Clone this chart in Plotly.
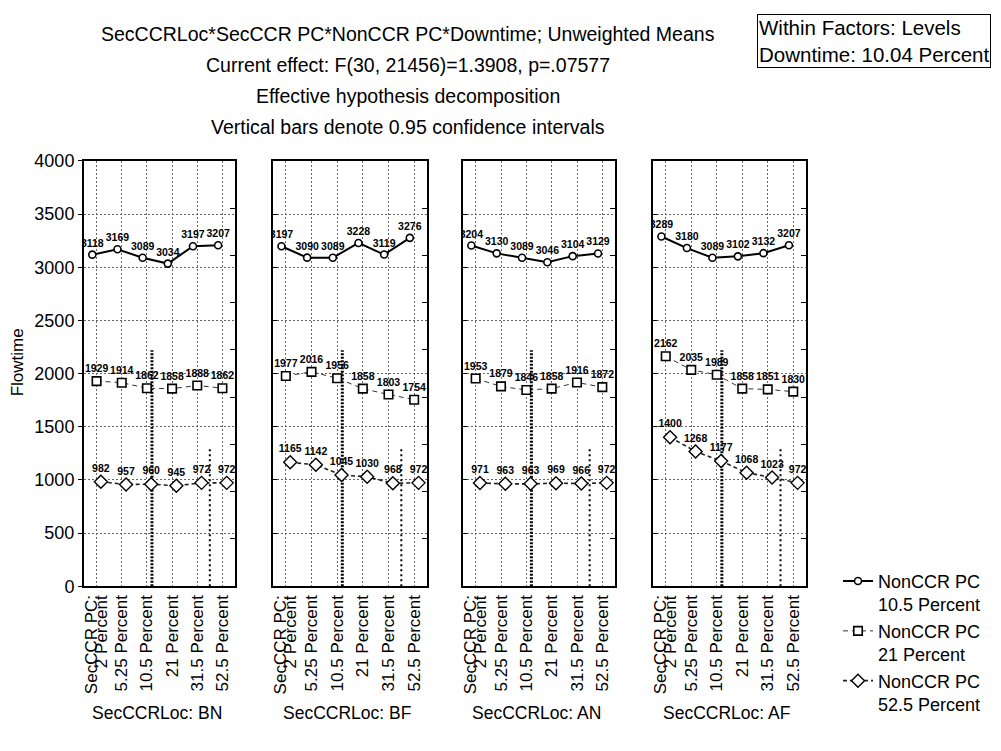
import plotly.graph_objects as go

# Factor levels
sec_pc_levels = ["2 Percent", "5.25 Percent", "10.5 Percent", "21 Percent", "31.5 Percent", "52.5 Percent"]
locations = ["BN", "BF", "AN", "AF"]

# Unweighted mean flowtime per SecCCR PC level, one list per location and NonCCR PC level
bn_nonccr_105 = [3118, 3169, 3089, 3034, 3197, 3207]
bn_nonccr_21 = [1929, 1914, 1862, 1858, 1888, 1862]
bn_nonccr_525 = [982, 957, 960, 945, 972, 972]

bf_nonccr_105 = [3197, 3090, 3089, 3228, 3119, 3276]
bf_nonccr_21 = [1977, 2016, 1956, 1858, 1803, 1754]
bf_nonccr_525 = [1165, 1142, 1045, 1030, 968, 972]

an_nonccr_105 = [3204, 3130, 3089, 3046, 3104, 3129]
an_nonccr_21 = [1953, 1879, 1846, 1858, 1916, 1872]
an_nonccr_525 = [971, 963, 963, 969, 966, 972]

af_nonccr_105 = [3289, 3180, 3089, 3102, 3132, 3207]
af_nonccr_21 = [2162, 2035, 1989, 1858, 1851, 1830]
af_nonccr_525 = [1400, 1268, 1177, 1068, 1023, 972]

# Confidence interval bars (position on the SecCCR PC axis, upper end)
ci_x = [2.2, 4.5]
ci_top = [2220, 1290]

series_names = ["NonCCR PC<br>10.5 Percent", "NonCCR PC<br>21 Percent", "NonCCR PC<br>52.5 Percent"]
panel_data = {
    "BN": [bn_nonccr_105, bn_nonccr_21, bn_nonccr_525],
    "BF": [bf_nonccr_105, bf_nonccr_21, bf_nonccr_525],
    "AN": [an_nonccr_105, an_nonccr_21, an_nonccr_525],
    "AF": [af_nonccr_105, af_nonccr_21, af_nonccr_525],
}

W, H = 1001, 751
def fx(p):
    return p / W
def fy(p):
    return 1 - p / H

panel_px = [(84, 235), (273, 427), (463, 615), (653, 806)]
plot_top, plot_bottom = 155, 592

SANS = "Liberation Sans, Arial, sans-serif"

styles = [
    dict(line=dict(color="black", width=2), marker=dict(symbol="circle", size=7, line=dict(width=1.6, color="black")), offset=-0.17),
    dict(line=dict(color="#333", width=1, dash="5px,4px"), marker=dict(symbol="square", size=8.5, line=dict(width=1.6, color="black")), offset=0.0),
    dict(line=dict(color="#222", width=1.6, dash="4px,3px"), marker=dict(symbol="diamond", size=10, line=dict(width=1.4, color="black")), offset=0.17),
]

fig = go.Figure()
layout = {}
annotations = []

for i, loc in enumerate(locations):
    n = i + 1
    xname = "x" if n == 1 else f"x{n}"
    yname = "y" if n == 1 else f"y{n}"
    y2name = f"y{n + 4}"
    x0, x1 = panel_px[i]

    # confidence interval bars
    for k, (cx, ct) in enumerate(zip(ci_x, ci_top)):
        fig.add_trace(go.Scatter(
            x=[cx, cx], y=[0, ct], mode="lines", xaxis=xname, yaxis=yname,
            line=dict(color="black", width=3 if k == 0 else 2, dash="2px,1.5px" if k == 0 else "2px,3px"),
            showlegend=False, hoverinfo="skip"))

    for s, values in enumerate(panel_data[loc]):
        st = styles[s]
        fig.add_trace(go.Scatter(
            x=[j + st["offset"] for j in range(len(values))], y=values,
            mode="lines+markers+text", text=[str(v) for v in values],
            textposition="top center",
            textfont=dict(family=SANS, size=10.5, color="black", weight="bold"),
            line=st["line"], marker=dict(color="white", **st["marker"]),
            name=series_names[s], legendgroup="nonccr", showlegend=(i == 0),
            xaxis=xname, yaxis=yname, hoverinfo="skip", cliponaxis=True))

    # secondary axis carrying the inner ticks of the right frame
    fig.add_trace(go.Scatter(x=[None], y=[None], xaxis=xname, yaxis=y2name,
                             showlegend=False, hoverinfo="skip"))

    layout["xaxis" if n == 1 else f"xaxis{n}"] = dict(
        domain=[fx(x0), fx(x1)], anchor=yname, range=[-0.5, 5.5],
        tickmode="array", tickvals=list(range(6)), ticktext=[""] + sec_pc_levels[1:],
        tickangle=-90, tickfont=dict(family=SANS, size=17, color="black"),
        showline=True, mirror=True, linecolor="black", linewidth=2,
        showgrid=True, gridcolor="#666", griddash="2px,2px", gridwidth=1,
        zeroline=False, ticks="", fixedrange=True)
    layout["yaxis" if n == 1 else f"yaxis{n}"] = dict(
        domain=[fy(plot_bottom), fy(plot_top)], anchor=xname, range=[0, 4000],
        dtick=500, showticklabels=(n == 1), tickfont=dict(family=SANS, size=18, color="black"),
        ticks="outside" if n == 1 else "inside", ticklen=4, tickcolor="black",
        showline=True, mirror=True, linecolor="black", linewidth=2,
        showgrid=True, gridcolor="#666", griddash="2px,2px", gridwidth=1,
        zeroline=False, fixedrange=True)
    layout[f"yaxis{n + 4}"] = dict(
        overlaying=yname, anchor=xname, side="right", range=[0, 9], dtick=1,
        showticklabels=False, ticks="inside", ticklen=5, tickcolor="black",
        showgrid=False, zeroline=False, showline=False, fixedrange=True)

    # two-line label of the first level
    annotations.append(dict(text="SecCCR PC:", x=0, xref=xname, xshift=-5, y=fy(599), yref="paper",
                            xanchor="center", yanchor="top", textangle=-90, showarrow=False,
                            font=dict(family=SANS, size=17, color="black")))
    annotations.append(dict(text="2 Percent", x=0, xref=xname, xshift=5, y=fy(599), yref="paper",
                            xanchor="center", yanchor="top", textangle=-90, showarrow=False,
                            font=dict(family=SANS, size=17, color="black")))
    annotations.append(dict(text=f"SecCCRLoc: {loc}", x=fx((x0 + x1) / 2 - 3), xref="paper",
                            y=fy(722), yref="paper", xanchor="center", yanchor="middle",
                            showarrow=False, font=dict(family=SANS, size=17.5, color="black")))

title_lines = [
    ("SecCCRLoc*SecCCR PC*NonCCR PC*Downtime; Unweighted Means", 25),
    ("Current effect: F(30, 21456)=1.3908, p=.07577", 57),
    ("Effective hypothesis decomposition", 88),
    ("Vertical bars denote 0.95 confidence intervals", 120),
]
for txt, cy in title_lines:
    annotations.append(dict(text=txt, x=fx(408), y=fy(cy), xref="paper", yref="paper",
                            xanchor="center", yanchor="middle", showarrow=False,
                            font=dict(family=SANS, size=19.5, color="black")))

annotations.append(dict(text="Within Factors: Levels<br>Downtime: 10.04 Percent",
                        x=fx(757), y=fy(4), xref="paper", yref="paper", xanchor="left", yanchor="top",
                        align="left", showarrow=False, bordercolor="black", borderwidth=1, borderpad=1,
                        bgcolor="white", font=dict(family=SANS, size=20.5, color="black")))

annotations.append(dict(text="Flowtime", x=fx(17), y=fy(362), xref="paper", yref="paper",
                        xanchor="center", yanchor="middle", textangle=-90, showarrow=False,
                        font=dict(family=SANS, size=17, color="black")))

fig.update_layout(
    **layout,
    annotations=annotations,
    width=W, height=H,
    margin=dict(l=0, r=0, t=0, b=0),
    paper_bgcolor="white", plot_bgcolor="white",
    legend=dict(x=fx(838), y=fy(568), xanchor="left", yanchor="top", valign="top",
                font=dict(family=SANS, size=18, color="black"), tracegroupgap=0,
                bgcolor="rgba(0,0,0,0)"),
    showlegend=True,
)

fig.write_html("out.html")
